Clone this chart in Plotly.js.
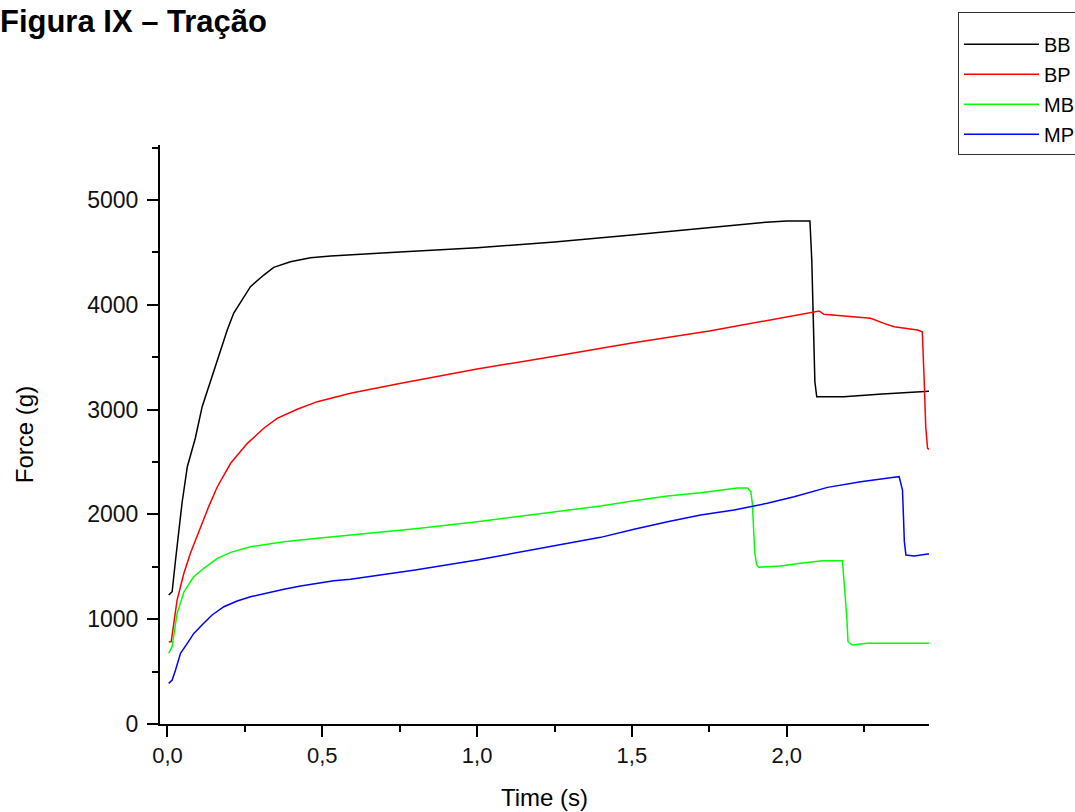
<!DOCTYPE html>
<html>
<head>
<meta charset="utf-8">
<script src="https://cdn.plot.ly/plotly-3.0.1.min.js"></script>
<style>html,body{margin:0;padding:0;background:#fff;}#chart{width:1075px;height:812px;}</style>
</head>
<body>
<div id="chart"></div>
<script>
// Series: BB
var bbTime = [0.004, 0.015, 0.026, 0.037, 0.047, 0.064, 0.090, 0.112, 0.139, 0.166, 0.193, 0.214, 0.247, 0.268, 0.311, 0.343, 0.397, 0.462, 0.527, 0.591, 0.75, 1.0, 1.25, 1.5, 1.72, 1.916, 2.0, 2.075, 2.081, 2.086, 2.091, 2.097, 2.184, 2.309, 2.378, 2.444, 2.46];
var bbForce = [1231, 1262, 1565, 1851, 2109, 2455, 2729, 3028, 3276, 3505, 3760, 3922, 4077, 4173, 4284, 4358, 4411, 4449, 4466, 4475, 4504, 4545, 4600, 4665, 4730, 4784, 4800, 4800, 4427, 3743, 3266, 3123, 3123, 3149, 3162, 3175, 3175];
// Series: BP
var bpTime = [0.004, 0.012, 0.031, 0.053, 0.074, 0.107, 0.133, 0.161, 0.204, 0.258, 0.311, 0.354, 0.419, 0.484, 0.548, 0.591, 0.75, 1.0, 1.25, 1.5, 1.75, 1.916, 1.98, 2.045, 2.088, 2.105, 2.12, 2.207, 2.271, 2.314, 2.347, 2.422, 2.438, 2.444, 2.449, 2.455, 2.46];
var bpForce = [786, 786, 1183, 1438, 1629, 1883, 2074, 2264, 2488, 2678, 2822, 2917, 3003, 3076, 3123, 3156, 3250, 3387, 3510, 3635, 3750, 3839, 3871, 3903, 3925, 3941, 3909, 3887, 3871, 3823, 3791, 3760, 3743, 3282, 2837, 2631, 2621];
// Series: MB
var mbTime = [0.004, 0.015, 0.031, 0.053, 0.083, 0.117, 0.161, 0.204, 0.268, 0.376, 0.484, 0.591, 0.8, 1.0, 1.2, 1.399, 1.507, 1.615, 1.722, 1.808, 1.840, 1.873, 1.884, 1.889, 1.892, 1.897, 1.903, 1.910, 1.937, 1.98, 2.045, 2.115, 2.18, 2.186, 2.194, 2.198, 2.212, 2.26, 2.46];
var mbForce = [675, 738, 1056, 1260, 1400, 1486, 1581, 1638, 1692, 1740, 1772, 1803, 1862, 1930, 2005, 2080, 2131, 2176, 2207, 2240, 2252, 2252, 2217, 2106, 1947, 1629, 1517, 1495, 1501, 1508, 1533, 1558, 1558, 1343, 1024, 785, 754, 770, 770];
// Series: MP
var mpTime = [0.004, 0.015, 0.026, 0.042, 0.064, 0.085, 0.117, 0.144, 0.182, 0.225, 0.268, 0.322, 0.376, 0.430, 0.484, 0.537, 0.591, 0.8, 1.0, 1.2, 1.399, 1.507, 1.615, 1.722, 1.830, 1.937, 2.024, 2.132, 2.239, 2.347, 2.363, 2.374, 2.380, 2.385, 2.412, 2.455, 2.46];
var mpForce = [388, 420, 515, 675, 770, 865, 961, 1040, 1119, 1174, 1215, 1253, 1285, 1317, 1343, 1367, 1381, 1470, 1565, 1670, 1781, 1858, 1930, 1994, 2042, 2106, 2169, 2258, 2312, 2354, 2360, 2233, 1740, 1613, 1603, 1622, 1622];

var seriesNames = ['BB', 'BP', 'MB', 'MP'];
var seriesColors = ['#000000', '#ff0000', '#00ff00', '#0000ff'];
var seriesTime = [bbTime, bpTime, mbTime, mpTime];
var seriesForce = [bbForce, bpForce, mbForce, mpForce];

var titleText = 'Figura IX – Tração';
var xTitle = 'Time (s)';
var yTitle = 'Force (g)';

var FONT = 'Liberation Sans, Arial, Helvetica, sans-serif';

var traces = seriesNames.map(function (name, i) {
  return {
    type: 'scatter',
    mode: 'lines',
    name: name,
    legendgroup: name,
    x: seriesTime[i],
    y: seriesForce[i],
    line: {color: seriesColors[i], width: 1.5}
  };
});

var layout = {
  width: 1075,
  height: 812,
  paper_bgcolor: '#ffffff',
  plot_bgcolor: '#ffffff',
  separators: ',.',
  margin: {l: 160, r: 146, t: 145, b: 88, pad: 0, autoexpand: false},
  font: {family: FONT, color: '#111111'},
  title: {
    text: '<b>' + titleText + '</b>',
    font: {family: FONT, size: 31, color: '#000000'},
    xref: 'container', yref: 'container',
    x: 267 / 1075, xanchor: 'right',
    y: 1 - 21 / 812, yanchor: 'middle'
  },
  showlegend: true,
  legend: {
    x: 1.0377, xanchor: 'left',
    y: 1.2297, yanchor: 'top',
    bordercolor: '#333333', borderwidth: 1,
    bgcolor: '#ffffff',
    font: {family: FONT, size: 20, color: '#000000'},
    title: {text: ' ', font: {family: FONT, size: 9}},
    traceorder: 'grouped',
    tracegroupgap: 1,
    itemwidth: 75
  },
  xaxis: {
    range: [-0.0242, 2.4596],
    showgrid: false, zeroline: false,
    showline: true, linecolor: '#000000', linewidth: 2,
    ticks: 'outside', ticklen: 11, tickwidth: 2, tickcolor: '#000000',
    tick0: 0, dtick: 0.5, tickformat: '.1f',
    tickfont: {family: FONT, size: 22, color: '#111111'},
    minor: {dtick: 0.25, tick0: 0, ticks: 'outside', ticklen: 6, tickwidth: 2, tickcolor: '#000000', showgrid: false},
    title: {text: xTitle, font: {family: FONT, size: 24, color: '#000000'}, standoff: 22}
  },
  yaxis: {
    range: [0, 5525],
    showgrid: false, zeroline: false,
    showline: true, linecolor: '#000000', linewidth: 2,
    ticks: 'outside', ticklen: 11, tickwidth: 2, tickcolor: '#000000',
    tick0: 0, dtick: 1000, tickformat: 'd',
    tickfont: {family: FONT, size: 23, color: '#111111'},
    ticklabelstandoff: 4,
    minor: {dtick: 500, tick0: 0, ticks: 'outside', ticklen: 6, tickwidth: 2, tickcolor: '#000000', showgrid: false},
    title: {text: yTitle, font: {family: FONT, size: 24, color: '#000000'}, standoff: 47}
  }
};

Plotly.newPlot('chart', traces, layout, {displayModeBar: false, staticPlot: true});
</script>
</body>
</html>
